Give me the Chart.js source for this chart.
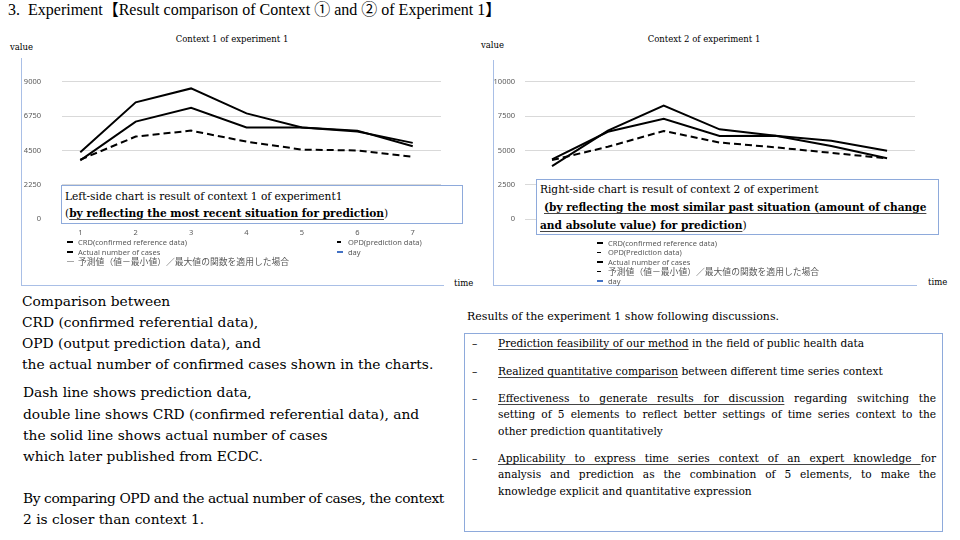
<!DOCTYPE html>
<html>
<head>
<meta charset="utf-8">
<script src="https://cdn.jsdelivr.net/npm/chart.js@4.4.1/dist/chart.umd.min.js"></script>
<style>
  body { margin: 0; width: 960px; height: 540px; position: relative; overflow: hidden; background: #fff;
         font-family: "DejaVu Serif", "Noto Sans CJK JP", serif; color: #000; }
  .t { position: absolute; white-space: nowrap; }
  .box { position: absolute; border: 1px solid #8eaadb; background: #fff; box-sizing: border-box; }
  .chartWrap { position: absolute; }
  .axisLine { position: absolute; background: #a9bfe6; }
  .lg { position: absolute; white-space: nowrap; font-family: "Noto Sans", "Noto Sans CJK JP", sans-serif;
        font-size: 7.5px; line-height: 10px; color: #595959; }
  .lg .jp { font-size: 8.8px; }
  .mk { position: absolute; height: 1.6px; }
  .u { text-decoration: underline; text-decoration-thickness: 1px; text-underline-offset: 2px; text-decoration-color: #444; }
  .b { font-weight: bold; }
  .j { text-align: justify; text-align-last: justify; white-space: normal; }
</style>
</head>
<body>

<div class="t" style="left:8px;top:0px;font-family:'Liberation Serif','Noto Sans CJK JP',serif;font-size:16px;line-height:20px;">3.&nbsp; Experiment【Result comparison of Context ① and ② of Experiment 1】</div>

<!-- left chart frame -->
<div class="t" style="left:10px;top:41px;font-size:8.5px;line-height:12px;">value</div>
<div class="t" style="left:132px;top:33px;width:200px;text-align:center;font-size:8.5px;line-height:12px;">Context 1 of experiment 1</div>
<div class="axisLine" style="left:20.5px;top:58px;width:1px;height:228px;"></div>
<div class="axisLine" style="left:20.5px;top:285px;width:423px;height:1px;"></div>
<div class="t" style="left:454px;top:277px;font-size:8.5px;line-height:12px;">time</div>
<div class="chartWrap" style="left:0;top:60px;width:460px;height:180px;"><canvas id="chart1"></canvas></div>

<!-- right chart frame -->
<div class="t" style="left:481px;top:39px;font-size:8.5px;line-height:12px;">value</div>
<div class="t" style="left:604px;top:33px;width:200px;text-align:center;font-size:8.5px;line-height:12px;">Context 2 of experiment 1</div>
<div class="axisLine" style="left:492.5px;top:60px;width:1px;height:226px;"></div>
<div class="axisLine" style="left:492.5px;top:285px;width:424px;height:1px;"></div>
<div class="t" style="left:928px;top:276px;font-size:8.5px;line-height:12px;">time</div>
<div class="chartWrap" style="left:470px;top:60px;width:480px;height:180px;"><canvas id="chart2"></canvas></div>

<div id="legend1"></div>
<div id="legend2"></div>

<!-- boxes on the charts -->
<div class="box" style="left:61px;top:185px;width:402px;height:39px;"></div>
<div class="t" style="left:65px;top:188px;font-size:10.6px;line-height:16px;">Left-side chart is result of context 1 of experiment1</div>
<div class="t" style="left:65px;top:205px;font-size:10.6px;line-height:16px;">(<span class="b u">by reflecting the most recent situation for prediction</span>)</div>

<div class="box" style="left:536px;top:179px;width:403px;height:56px;"></div>
<div class="t" style="left:540px;top:181px;font-size:10.6px;line-height:16px;">Right-side chart is result of context 2 of experiment</div>
<div class="t" style="left:544px;top:199px;font-size:10.6px;line-height:16px;"><span class="b u">(by reflecting the most similar past situation (amount of change</span></div>
<div class="t" style="left:540px;top:217px;font-size:10.6px;line-height:16px;"><span class="b u">and absolute value) for prediction</span>)</div>

<!-- left text -->
<div style="position:absolute;left:22px;top:0;font-size:13.8px;line-height:20px;">
  <div class="t" style="left:0;top:291px;">Comparison between</div>
  <div class="t" style="left:0;top:312px;">CRD (confirmed referential data),</div>
  <div class="t" style="left:0;top:333px;">OPD (output prediction data), and</div>
  <div class="t" style="left:0;top:354px;">the actual number of confirmed cases shown in the charts.</div>
  <div class="t" style="left:1px;top:382px;">Dash line shows prediction data,</div>
  <div class="t" style="left:1px;top:404px;">double line shows CRD (confirmed referential data), and</div>
  <div class="t" style="left:1px;top:425px;">the solid line shows actual number of cases</div>
  <div class="t" style="left:1px;top:446px;">which later published from ECDC.</div>
  <div class="t" style="left:1px;top:488px;letter-spacing:-0.4px;">By comparing OPD and the actual number of cases, the context</div>
  <div class="t" style="left:1px;top:509px;">2 is closer than context 1.</div>
</div>

<!-- right text -->
<div class="t" style="left:467px;top:309px;font-size:11px;line-height:16px;">Results of the experiment 1 show following discussions.</div>
<div class="box" style="left:464px;top:333px;width:479px;height:199px;"></div>
<div style="position:absolute;left:0;top:0;font-size:10.6px;line-height:16px;">
  <div class="t" style="left:472px;top:335px;">&#8211;</div>
  <div class="t" style="left:498px;top:335px;"><span class="u">Prediction feasibility of our method</span> in the field of public health data</div>
  <div class="t" style="left:472px;top:363px;">&#8211;</div>
  <div class="t" style="left:498px;top:363px;"><span class="u">Realized quantitative comparison</span> between different time series context</div>
  <div class="t" style="left:472px;top:390px;">&#8211;</div>
  <div class="t j" style="left:498px;top:390px;width:438px;"><span class="u">Effectiveness to generate results for discussion</span> regarding switching the</div>
  <div class="t j" style="left:498px;top:406px;width:438px;">setting of 5 elements to reflect better settings of time series context to the</div>
  <div class="t" style="left:498px;top:423px;">other prediction quantitatively</div>
  <div class="t" style="left:472px;top:450px;">&#8211;</div>
  <div class="t j" style="left:498px;top:450px;width:438px;"><span class="u">Applicability to express time series context of an expert knowledge </span>for</div>
  <div class="t j" style="left:498px;top:466px;width:438px;">analysis and prediction as the combination of 5 elements, to make the</div>
  <div class="t" style="left:498px;top:483px;">knowledge explicit and quantitative expression</div>
</div>

<script>
// days on the time axis
const days = [1, 2, 3, 4, 5, 6, 7];

// context 1 of experiment 1
const ctx1Crd = [4390, 7650, 8560, 6930, 6010, 5800, 4780];
const ctx1Actual = [3850, 6390, 7300, 6010, 6010, 5740, 5000];
const ctx1Opd = [3900, 5410, 5800, 5080, 4560, 4500, 4090];
const ctx1Ticks = [0, 2250, 4500, 6750, 9000];

// context 2 of experiment 1
const ctx2Crd = [3860, 6440, 8260, 6540, 6070, 5320, 4430];
const ctx2Actual = [4350, 6360, 7310, 6050, 6070, 5710, 4980];
const ctx2Opd = [4300, 5270, 6420, 5580, 5230, 4830, 4430];
const ctx2Ticks = [0, 2500, 5000, 7500, 10000];

const legendNames = ['CRD(confirmed reference data)', 'OPD(prediction data)', 'Actual number of cases',
  '予測値（値－最小値）／最大値の関数を適用した場合', 'day'];
const legendNames2 = ['CRD(confirmed reference data)', 'OPD(Prediction data)', 'Actual number of cases',
  '予測値（値－最小値）／最大値の関数を適用した場合', 'day'];

function points(values) {
  return days.map((d, i) => ({ x: d, y: values[i] }));
}

function makeChart(id, crd, actual, opd, yTicks, o) {
  const tickFont = { family: 'Noto Sans', size: 7.5 };
  return new Chart(document.getElementById(id), {
    type: 'line',
    data: {
      datasets: [
        { label: 'CRD', data: points(crd), borderColor: '#000', borderWidth: 2 },
        { label: 'OPD', data: points(opd), borderColor: '#000', borderWidth: 2, borderDash: [7, 4] },
        { label: 'Actual', data: points(actual), borderColor: '#000', borderWidth: 2 }
      ]
    },
    options: {
      responsive: true,
      maintainAspectRatio: false,
      animation: false,
      devicePixelRatio: 1,
      layout: { padding: { top: 21.7, right: o.padRight, left: 0, bottom: 0 } },
      elements: { point: { radius: 0 }, line: { tension: 0, borderCapStyle: 'butt', borderJoinStyle: 'miter' } },
      plugins: { legend: { display: false }, tooltip: { enabled: false } },
      scales: {
        x: {
          type: 'linear', min: o.xMin, max: o.xMax,
          afterBuildTicks: s => { s.ticks = days.map(v => ({ value: v })); },
          afterFit: s => { s.height = 20.7; },
          grid: { display: false },
          border: { display: false },
          ticks: { display: o.showX, color: '#595959', font: tickFont, padding: 1, maxRotation: 0, autoSkip: false }
        },
        y: {
          min: 0, max: yTicks[yTicks.length - 1],
          afterBuildTicks: s => { s.ticks = yTicks.map(v => ({ value: v })); },
          afterFit: s => { s.width = o.yWidth; },
          // invisible tick marks keep the labels away from the grid
          grid: { color: '#d9d9d9', lineWidth: 1, drawTicks: true, tickLength: o.gap, tickColor: 'rgba(0,0,0,0)' },
          border: { display: false },
          ticks: { color: '#595959', font: tickFont, padding: 4, callback: v => String(v) }
        }
      }
    }
  });
}

makeChart('chart1', ctx1Crd, ctx1Actual, ctx1Opd, ctx1Ticks,
  { yWidth: 62, gap: 17, padRight: 19, xMin: 0.67, xMax: 7.51, showX: true });
makeChart('chart2', ctx2Crd, ctx2Actual, ctx2Opd, ctx2Ticks,
  { yWidth: 55, gap: 6, padRight: 35, xMin: 0.516, xMax: 7.5, showX: false });

// legends as in the slide (excel-like column layout)
function legendItem(parent, name, x, y, mark) {
  const m = document.createElement('div');
  m.className = 'mk';
  m.style.left = x + 'px';
  m.style.top = (y - 0.8) + 'px';
  m.style.width = mark.w + 'px';
  m.style.background = mark.c;
  if (mark.h) m.style.height = mark.h + 'px';
  parent.appendChild(m);
  const t = document.createElement('div');
  t.className = 'lg';
  t.style.left = (x + 11) + 'px';
  t.style.top = (y - 5) + 'px';
  t.innerHTML = /[^\x00-\x7f]/.test(name) ? '<span class="jp">' + name + '</span>' : name;
  parent.appendChild(t);
}

const solid = { w: 6, c: '#000' };
const dash = { w: 3.5, c: '#000' };
const grey = { w: 7, c: '#a6a6a6', h: 1 };
const blue = { w: 6, c: '#4472c4' };

const l1 = document.getElementById('legend1');
legendItem(l1, legendNames[0], 67, 242, solid);
legendItem(l1, legendNames[1], 337, 242, dash);
legendItem(l1, legendNames[2], 67, 252, solid);
legendItem(l1, legendNames[4], 337, 252, blue);
legendItem(l1, legendNames[3], 67, 262, grey);

const l2 = document.getElementById('legend2');
const marks2 = [solid, dash, solid, dash, blue];
const rows2 = [243, 252.3, 262, 271.7, 281];
legendNames2.forEach((n, i) => legendItem(l2, n, 597, rows2[i], marks2[i]));
</script>
</body>
</html>
